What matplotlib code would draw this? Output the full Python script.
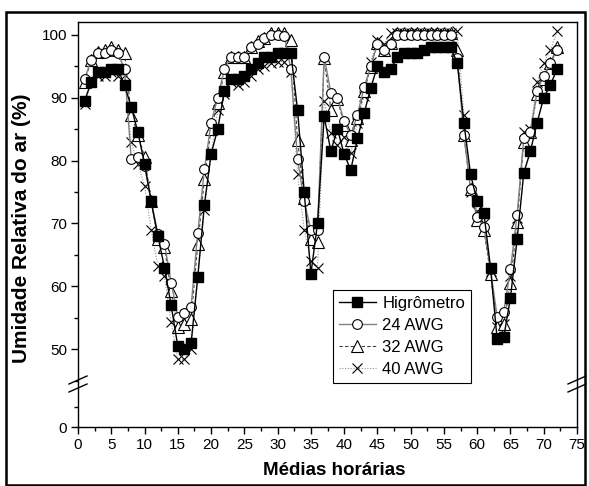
import matplotlib
matplotlib.use("Agg")
import matplotlib.pyplot as plt
from matplotlib.lines import Line2D
from matplotlib.patches import Rectangle
import numpy as np

plt.rcParams['font.family'] = ['Liberation Sans', 'DejaVu Sans']

hours = list(range(1, 73))

higrometro = [89.5, 92.5, 94.0, 94.0, 94.5, 94.5, 92.0, 88.5, 84.5, 79.5,
              73.5, 68.0, 63.0, 57.0, 50.5, 50.0, 51.0, 61.5, 73.0, 81.0,
              85.0, 91.0, 93.0, 93.0, 93.5, 94.5, 95.5, 96.5, 96.5, 97.0,
              97.0, 97.0, 88.0, 75.0, 62.0, 70.0, 87.0, 81.5, 85.0, 81.0,
              78.5, 83.5, 87.5, 91.5, 95.0, 94.0, 94.5, 96.5, 97.0, 97.0,
              97.0, 97.5, 98.0, 98.0, 98.0, 98.0, 95.5, 86.0, 77.8, 73.5,
              71.7, 63.0, 51.6, 52.0, 58.2, 67.5, 78.0, 81.5, 86.0, 90.0,
              92.0, 94.5]

awg24 = [93.0, 96.0, 97.0, 97.0, 97.5, 97.0, 94.5, 80.3, 80.6, 79.2,
         73.5, 68.4, 66.8, 60.6, 55.2, 55.8, 56.8, 68.5, 78.6, 86.0,
         90.0, 94.5, 96.5, 96.5, 96.5, 98.0, 98.5, 99.5, 100.0, 100.0,
         99.8, 94.5, 80.2, 73.5, 69.0, 69.0, 96.5, 90.8, 90.0, 86.2,
         84.0, 87.3, 91.6, 95.0, 98.5, 97.5, 98.5, 100.0, 100.0, 100.0,
         100.0, 100.0, 100.0, 100.0, 100.0, 100.0, 96.3, 84.0, 75.5, 71.0,
         69.5, 62.7, 55.2, 56.0, 62.7, 71.4, 83.5, 84.5, 91.0, 93.5,
         95.5, 97.5]

awg32 = [92.5, 96.0, 97.2, 97.5, 98.0, 97.5, 97.0, 87.3, 84.1, 80.6,
         73.5, 67.6, 66.2, 59.2, 53.6, 54.0, 54.8, 66.7, 77.0, 85.0,
         89.2, 94.0, 96.5, 96.5, 96.5, 98.0, 99.0, 99.5, 100.3, 100.3,
         100.3, 99.2, 83.3, 74.0, 67.5, 67.0, 96.3, 88.1, 89.7, 85.7,
         83.3, 86.8, 91.0, 94.9, 98.7, 97.6, 98.7, 100.3, 100.3, 100.3,
         100.3, 100.3, 100.3, 100.3, 100.3, 100.3, 97.6, 84.1, 75.4, 70.6,
         69.0, 62.0, 53.6, 54.0, 60.5, 70.2, 83.0, 84.5, 90.5, 93.0,
         95.5, 98.0]

awg40 = [89.0, 92.5, 93.5, 93.5, 94.0, 93.5, 93.6, 83.0, 79.4, 76.0,
         69.0, 63.2, 61.6, 54.4, 48.4, 48.4, 50.0, 61.5, 72.2, 81.0,
         88.0, 90.5, 92.5, 92.0, 92.5, 93.5, 94.5, 95.0, 95.5, 95.7,
         95.7, 94.0, 77.8, 69.0, 64.0, 63.0, 89.5, 84.4, 82.5, 83.8,
         81.2, 86.0, 90.3, 95.7, 99.2, 98.5, 100.3, 100.3, 100.3, 100.3,
         100.3, 100.3, 100.3, 100.3, 100.3, 100.3, 100.5, 87.3, 75.0, 72.0,
         70.0, 62.5, 53.6, 54.0, 61.7, 70.8, 84.5, 85.0, 92.5, 95.5,
         97.5, 100.5]

labels = ['Higrômetro', '24 AWG', '32 AWG', '40 AWG']
x_ticks = list(range(0, 76, 5))
y_ticks_top = [50, 60, 70, 80, 90, 100]
y_ticks_bot = [0]

W, H = 589, 486
fig = plt.figure(figsize=(W / 100, H / 100), dpi=100)

L, R = 78 / W, 577 / W
top_px, brk_px, bot_px = 22, 384, 427
ax_top = fig.add_axes([L, 1 - brk_px / H, R - L, (brk_px - top_px) / H])
ax_bot = fig.add_axes([L, 1 - bot_px / H, R - L, (bot_px - brk_px) / H], sharex=ax_top)

styles = [
    dict(color='black', lw=1.0, ls='-', marker='s', ms=6.5, mfc='black', mec='black'),
    dict(color='#808080', lw=1.0, ls='-', marker='o', ms=7, mfc='white', mec='black', mew=0.8),
    dict(color='#404040', lw=0.8, ls=(0, (3, 2)), marker='^', ms=8, mfc='white', mec='black', mew=0.8),
    dict(color='#909090', lw=0.8, ls=(0, (1, 1.5)), marker='x', ms=7.5, mfc='none', mec='black', mew=0.8),
]
series = [higrometro, awg24, awg32, awg40]
order = [3, 2, 1, 0]
handles = [None] * 4
for i in order:
    for ax in (ax_top, ax_bot):
        ln, = ax.plot(hours, series[i], label=labels[i], zorder=2 + (3 - i) * 0.1 + (0.5 if i == 0 else 0),
                      **styles[i])
        if ax is ax_top:
            handles[i] = ln

ax_top.set_ylim(44.5, 102)
ax_bot.set_ylim(0, 10.75)
ax_top.set_xlim(0, 75)

for ax in (ax_top, ax_bot):
    for s in ax.spines.values():
        s.set_linewidth(1.0)
ax_top.spines['bottom'].set_visible(False)
ax_bot.spines['top'].set_visible(False)

ax_top.set_yticks(y_ticks_top)
ax_top.set_yticks([45, 55, 65, 75, 85, 95], minor=True)
ax_bot.set_yticks(y_ticks_bot)
ax_bot.set_yticks([5], minor=True)
ax_bot.set_xticks(x_ticks)
ax_bot.set_xticks(np.arange(2.5, 75, 5), minor=True)

for ax in (ax_top, ax_bot):
    ax.tick_params(axis='both', which='major', direction='out', length=5, width=1,
                   labelsize=11, right=False, top=False, pad=3)
    ax.tick_params(axis='both', which='minor', direction='out', length=3, width=1,
                   right=False, top=False)
ax_top.tick_params(axis='x', which='both', bottom=False, labelbottom=False)

fig.text(334 / W, 1 - 470 / H, 'Médias horárias', fontsize=13.5, fontweight='bold',
         ha='center', va='center')
fig.text(22 / W, 1 - 228 / H, 'Umidade Relativa do ar (%)', rotation=90, fontsize=15,
         fontweight='bold', ha='center', va='center')

# axis break marks
for xpx in (L, R):
    for dy in (-4, 4):
        y0 = 1 - (brk_px + dy) / H
        fig.add_artist(Line2D([xpx - 9 / W, xpx + 9 / W], [y0 - 4 / H, y0 + 4 / H],
                              color='black', lw=1.0, transform=fig.transFigure))

leg = fig.legend(handles=handles, labels=labels, loc='upper left',
                 bbox_to_anchor=(333 / W, 1 - 290 / H),
                 frameon=True, fancybox=False, edgecolor='black', fontsize=12,
                 handlelength=2.2, handletextpad=0.4, borderpad=0.35, labelspacing=0.42,
                 borderaxespad=0, framealpha=1)
leg.get_frame().set_linewidth(0.8)
leg.set_zorder(10)

# outer figure frame
fig.add_artist(Rectangle((6 / W, 1 / H), (585 - 6) / W, (485 - 12) / H, fill=False,
                         edgecolor='black', lw=1.8, transform=fig.transFigure))

fig.savefig('out.png', dpi=100)
